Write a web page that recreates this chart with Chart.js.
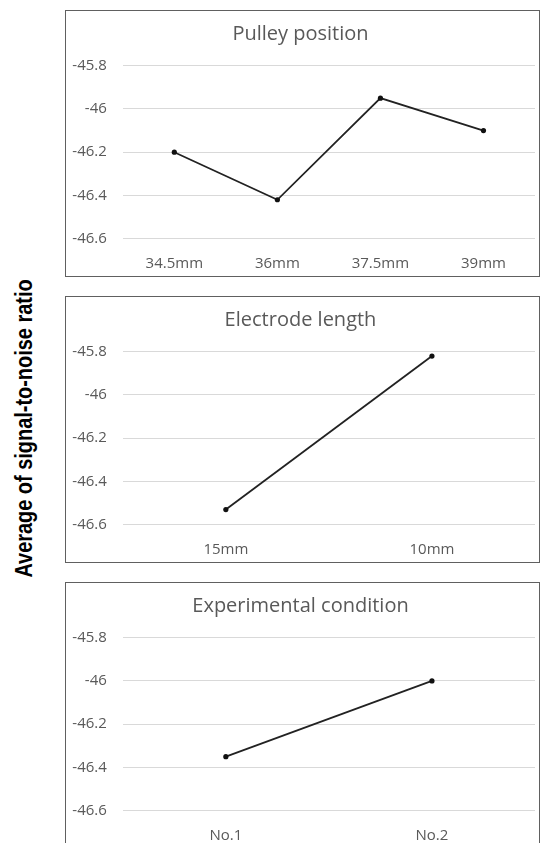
<!DOCTYPE html>
<html>
<head>
<meta charset="utf-8">
<script src="https://cdn.jsdelivr.net/npm/chart.js@4.4.1/dist/chart.umd.min.js"></script>
<style>
    html, body { margin: 0; padding: 0; background: #fff; overflow: hidden; }
    body { width: 540px; height: 843px; position: relative; }
    .panel {
        position: absolute;
        left: 65px;
        width: 473px;
        height: 265px;
        border: 1px solid #606060;
    }
    .panel canvas { display: block; }
    #yTitle {
        position: absolute;
        white-space: nowrap;
        font-family: "Liberation Sans Narrow", "Arial Narrow", "Liberation Sans", sans-serif;
        font-weight: bold;
        font-size: 23px;
        color: #000;
    }
</style>
</head>
<body>
<div class="panel" style="top:10px"><canvas id="pulleyChart" width="473" height="265"></canvas></div>
<div class="panel" style="top:296px"><canvas id="electrodeChart" width="473" height="265"></canvas></div>
<div class="panel" style="top:582px"><canvas id="conditionChart" width="473" height="265"></canvas></div>
<div id="yTitle">Average of signal-to-noise ratio</div>

<script>
const pulleyLabels = ['34.5mm', '36mm', '37.5mm', '39mm']
const pulleyValues = [-46.2, -46.42, -45.95, -46.1]

const electrodeLabels = ['15mm', '10mm']
const electrodeValues = [-46.53, -45.82]

const conditionLabels = ['No.1', 'No.2']
const conditionValues = [-46.35, -46.0]

const yTickValues = [-46.6, -46.4, -46.2, -46, -45.8]
const yMin = -46.65
const yMax = -45.75

const textColor = '#595959'
const baseFont = '"Open Sans", "Noto Sans", sans-serif'

function makeChart(canvasId, title, labels, values) {
    const ctx = document.getElementById(canvasId)
    return new Chart(ctx, {
        type: 'line',
        data: {
            labels: labels,
            datasets: [{
                data: values,
                borderColor: '#222',
                borderWidth: 1.8,
                pointRadius: 2.6,
                pointBackgroundColor: '#111',
                pointBorderColor: '#111',
                pointBorderWidth: 0,
                tension: 0,
                fill: false
            }]
        },
        options: {
            responsive: false,
            animation: false,
            layout: { padding: { left: 0, right: 4, top: 0, bottom: 0 } },
            plugins: {
                legend: { display: false },
                tooltip: { enabled: false },
                title: {
                    display: true,
                    text: title,
                    color: textColor,
                    font: { family: baseFont, size: 20, weight: 'normal' },
                    padding: { top: 11, bottom: 8.9 }
                }
            },
            scales: {
                x: {
                    offset: true,
                    grid: { display: false, drawTicks: false },
                    border: { display: false },
                    ticks: {
                        color: textColor,
                        font: { family: baseFont, size: 15 },
                        padding: 5,
                        maxRotation: 0
                    },
                    afterFit: (scale) => { scale.height = 26.5 }
                },
                y: {
                    min: yMin,
                    max: yMax,
                    grid: { color: '#d9d9d9', lineWidth: 1, drawTicks: false },
                    border: { display: false },
                    afterBuildTicks: (scale) => {
                        scale.ticks = yTickValues.map(v => ({ value: v }))
                    },
                    ticks: {
                        color: textColor,
                        font: { family: baseFont, size: 15 },
                        padding: 16,
                        // -46.0 shows as -46
                        callback: (v) => String(Number(v.toFixed(1)))
                    },
                    afterFit: (scale) => { scale.width = 56.8 }
                }
            }
        }
    })
}

makeChart('pulleyChart', 'Pulley position', pulleyLabels, pulleyValues)
makeChart('electrodeChart', 'Electrode length', electrodeLabels, electrodeValues)
makeChart('conditionChart', 'Experimental condition', conditionLabels, conditionValues)

// rotated shared axis title, squeezed to the reference length
const yTitle = document.getElementById('yTitle')
const titleW = yTitle.offsetWidth
const titleH = yTitle.offsetHeight
const targetLen = 298
const sx = Math.min(1, targetLen / titleW)
yTitle.style.left = (24 - titleW / 2) + 'px'
yTitle.style.top = (428 - titleH / 2) + 'px'
yTitle.style.transform = `rotate(-90deg) scale(${sx}, 1)`
</script>
</body>
</html>
